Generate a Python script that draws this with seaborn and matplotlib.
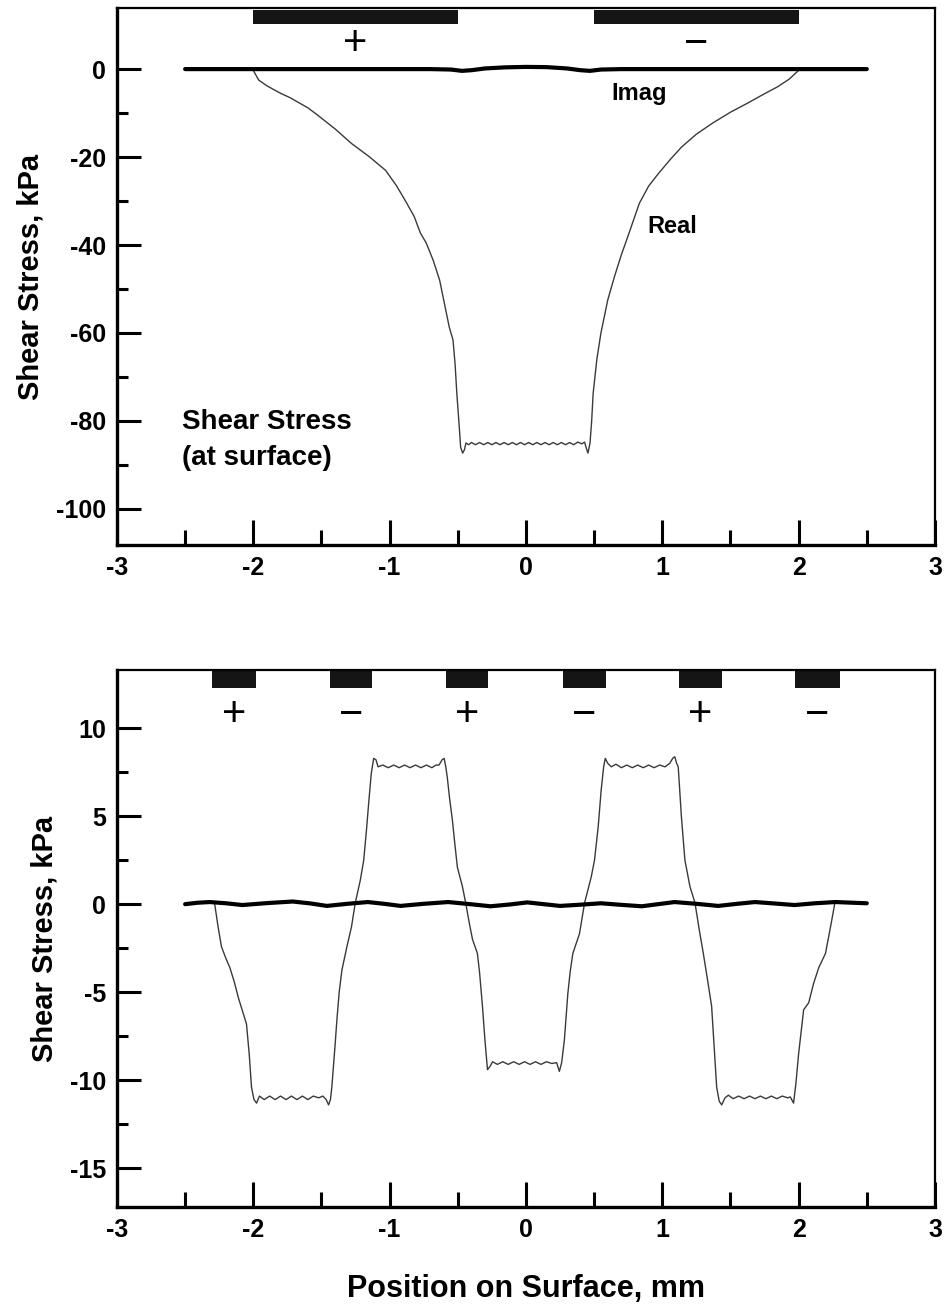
import numpy as np
import pandas as pd
import matplotlib
matplotlib.use("Agg")
import matplotlib.pyplot as plt
import seaborn as sns

# ---------------- data ----------------
# Top panel: single electrode pair
top_real_x = [-2.0, -1.96, -1.9, -1.8, -1.73, -1.6, -1.535, -1.4, -1.28, -1.15, -1.03, -0.95,
              -0.887, -0.82, -0.774, -0.732, -0.68, -0.633, -0.6, -0.563, -0.535, -0.52, -0.507,
              -0.49, -0.479, -0.464, -0.452, -0.44,
              -0.42, -0.40, -0.37, -0.34, -0.31, -0.28, -0.25, -0.22, -0.19, -0.16, -0.13, -0.10,
              -0.07, -0.04, -0.01, 0.02, 0.05, 0.08, 0.11, 0.14, 0.17, 0.20, 0.23, 0.26, 0.29,
              0.32, 0.35, 0.38, 0.41, 0.43,
              0.445, 0.455, 0.47, 0.482, 0.493, 0.52, 0.55, 0.6, 0.649, 0.7, 0.747, 0.832, 0.9,
              0.973, 1.06, 1.142, 1.25, 1.368, 1.5, 1.622, 1.75, 1.847, 1.93, 2.0]
top_real_y = [-0.3, -2.5, -3.8, -5.5, -6.5, -8.8, -10.3, -13.6, -16.9, -19.9, -23.0, -26.5,
              -29.8, -33.5, -37.3, -39.5, -43.5, -48.0, -53.0, -58.6, -61.6, -67.0, -73.7,
              -81.0, -86.0, -87.3, -86.6, -85.0,
              -85.4, -84.9, -85.4, -84.9, -85.4, -84.9, -85.4, -84.9, -85.4, -84.9, -85.4, -84.9,
              -85.4, -84.9, -85.4, -84.9, -85.4, -84.9, -85.4, -84.9, -85.4, -84.9, -85.4, -84.9, -85.4,
              -84.9, -85.4, -84.8, -85.2, -84.8,
              -86.4, -87.3, -85.0, -80.0, -73.7, -66.0, -60.0, -52.5, -47.2, -42.2, -38.1, -30.5, -26.6,
              -23.7, -20.5, -17.7, -14.8, -12.3, -9.8, -7.8, -5.6, -4.0, -2.3, -0.3]
top_imag_x = [-2.5, -2.0, -1.5, -1.0, -0.7, -0.55, -0.47, -0.40, -0.3, -0.15, 0.0, 0.15, 0.3,
              0.40, 0.47, 0.55, 0.7, 1.0, 1.5, 2.0, 2.5]
top_imag_y = [0.0, 0.0, 0.0, 0.0, 0.0, -0.1, -0.4, -0.25, 0.15, 0.4, 0.5, 0.45, 0.15,
              -0.25, -0.4, -0.1, 0.0, 0.0, 0.0, 0.0, 0.0]
top_elec_start = [-2.0, 0.5]
top_elec_end = [-0.5, 2.0]
top_sign_x = [-1.25, 1.25]
top_signs = ["+", "\u2212"]

# Bottom panel: interdigitated electrodes
bot_real_x = [-2.283, -2.26, -2.234, -2.2, -2.172, -2.14, -2.11, -2.05, -2.03, -2.013, -1.995, -1.976, -1.955,
              -1.92, -1.88, -1.84, -1.80, -1.76, -1.72, -1.68, -1.64, -1.60, -1.56, -1.52, -1.49, -1.465,
              -1.448, -1.434, -1.424, -1.40, -1.387, -1.37, -1.35, -1.313, -1.28, -1.252, -1.215, -1.19,
              -1.17, -1.154, -1.135, -1.117, -1.10, -1.085,
              -1.05, -1.01, -0.97, -0.93, -0.89, -0.85, -0.81, -0.77, -0.73, -0.69, -0.66, -0.638,
              -0.615, -0.600, -0.588, -0.577, -0.56, -0.54, -0.52, -0.503, -0.466, -0.442, -0.415, -0.392,
              -0.356, -0.34, -0.319, -0.30, -0.282, -0.262, -0.245,
              -0.21, -0.17, -0.13, -0.09, -0.05, -0.01, 0.03, 0.07, 0.11, 0.15, 0.19, 0.225,
              0.245, 0.262, 0.282, 0.307, 0.325, 0.344, 0.393, 0.43, 0.479, 0.503, 0.53, 0.552, 0.57,
              0.582, 0.60, 0.626,
              0.66, 0.70, 0.74, 0.78, 0.82, 0.86, 0.90, 0.94, 0.98, 1.02, 1.055,
              1.078, 1.092, 1.105, 1.117, 1.14, 1.166, 1.203, 1.24, 1.27, 1.301, 1.33, 1.362, 1.38,
              1.399, 1.418, 1.436, 1.46, 1.485,
              1.52, 1.56, 1.60, 1.64, 1.68, 1.72, 1.76, 1.80, 1.84, 1.88, 1.92, 1.939,
              1.963, 1.98, 2.0, 2.037, 2.074, 2.11, 2.148, 2.197, 2.234, 2.266]
bot_real_y = [0.0, -1.2, -2.4, -3.1, -3.6, -4.4, -5.3, -6.8, -8.5, -10.4, -11.1, -11.3, -10.9,
              -11.1, -10.9, -11.1, -10.9, -11.1, -10.9, -11.1, -10.9, -11.1, -10.9, -11.0, -10.9, -11.1,
              -11.4, -11.1, -10.4, -8.0, -6.6, -5.0, -3.75, -2.4, -1.3, 0.07, 1.36, 2.5,
              4.2, 5.7, 7.4, 8.28, 8.2, 7.8,
              7.9, 7.75, 7.9, 7.75, 7.9, 7.75, 7.9, 7.75, 7.9, 7.75, 7.9, 7.9,
              8.2, 8.28, 7.8, 7.2, 6.0, 4.8, 3.3, 2.1, 1.0, 0.07, -1.1, -2.0,
              -2.8, -3.9, -5.8, -7.8, -9.4, -9.2, -8.95,
              -9.1, -8.95, -9.1, -8.95, -9.1, -8.95, -9.1, -8.95, -9.1, -8.95, -9.05, -9.0,
              -9.5, -9.0, -7.7, -5.1, -3.8, -2.8, -1.67, 0.07, 1.55, 2.5, 4.4, 6.5, 7.8,
              8.28, 8.0, 7.8,
              7.95, 7.75, 7.9, 7.75, 7.9, 7.75, 7.9, 7.75, 7.9, 7.8, 8.0,
              8.3, 8.37, 8.0, 7.8, 5.0, 2.5, 1.0, 0.07, -1.4, -2.8, -4.2, -5.8, -8.0,
              -10.4, -11.2, -11.4, -11.0, -10.85,
              -11.05, -10.9, -11.05, -10.9, -11.05, -10.9, -11.05, -10.9, -11.05, -10.9, -11.0, -10.95,
              -11.3, -10.2, -8.5, -6.0, -5.6, -4.5, -3.6, -2.8, -1.3, 0.07]
bot_imag_x = [-2.5, -2.41, -2.32, -2.2, -2.08, -1.9, -1.71, -1.58, -1.46, -1.31, -1.16, -1.04,
              -0.92, -0.75, -0.57, -0.41, -0.26, -0.12, 0.01, 0.13, 0.25, 0.4, 0.55, 0.7,
              0.85, 0.97, 1.09, 1.25, 1.41, 1.55, 1.68, 1.82, 1.97, 2.12, 2.27, 2.4, 2.5]
bot_imag_y = [0.0, 0.08, 0.12, 0.05, -0.05, 0.06, 0.15, 0.04, -0.1, 0.02, 0.12, 0.02,
              -0.1, 0.02, 0.12, 0.0, -0.12, -0.02, 0.1, 0.0, -0.1, -0.03, 0.05, -0.04,
              -0.12, 0.0, 0.12, 0.02, -0.1, 0.02, 0.12, 0.04, -0.05, 0.05, 0.12, 0.08, 0.05]
bot_elec_start = [-2.30, -1.44, -0.59, 0.27, 1.12, 1.97]
bot_elec_end = [-1.98, -1.13, -0.28, 0.59, 1.44, 2.30]
bot_sign_x = [-2.14, -1.285, -0.435, 0.43, 1.28, 2.135]
bot_signs = ["+", "\u2212", "+", "\u2212", "+", "\u2212"]

x_ticks = [-3, -2, -1, 0, 1, 2, 3]
x_minor = [-2.5, -1.5, -0.5, 0.5, 1.5, 2.5]
top_yticks = [0, -20, -40, -60, -80, -100]
top_yminor = [-10, -30, -50, -70, -90]
bot_yticks = [10, 5, 0, -5, -10, -15]
bot_yminor = [7.5, 2.5, -2.5, -7.5, -12.5]

# ---------------- style ----------------
sns.set_theme(style="ticks")
plt.rcParams["font.family"] = ["Liberation Sans", "DejaVu Sans"]
plt.rcParams["font.weight"] = "bold"
plt.rcParams["axes.labelweight"] = "bold"
plt.rcParams["text.color"] = "black"
plt.rcParams["axes.labelcolor"] = "black"
plt.rcParams["xtick.color"] = "black"
plt.rcParams["ytick.color"] = "black"

fig = plt.figure(figsize=(9.44, 13.06), dpi=100)
ax1 = fig.add_axes([0.1239, 0.5827, 0.8665, 0.4112])
ax2 = fig.add_axes([0.1239, 0.0758, 0.8665, 0.4112])

df_top_real = pd.DataFrame({"x": top_real_x, "y": top_real_y})
df_top_imag = pd.DataFrame({"x": top_imag_x, "y": top_imag_y})
df_bot_real = pd.DataFrame({"x": bot_real_x, "y": bot_real_y})
df_bot_imag = pd.DataFrame({"x": bot_imag_x, "y": bot_imag_y})

real_kw = dict(color="#3a3a3a", linewidth=1.0, sort=False, estimator=None)
imag_kw = dict(color="black", linewidth=3.0, sort=False, estimator=None)

sns.lineplot(data=df_top_real, x="x", y="y", ax=ax1, **real_kw)
sns.lineplot(data=df_top_imag, x="x", y="y", ax=ax1, **imag_kw)
sns.lineplot(data=df_bot_real, x="x", y="y", ax=ax2, **real_kw)
sns.lineplot(data=df_bot_imag, x="x", y="y", ax=ax2, **imag_kw)

# electrodes
ax1.broken_barh([(s, e - s) for s, e in zip(top_elec_start, top_elec_end)], (10.2, 3.3),
                facecolors="#151515", edgecolor="none")
ax2.broken_barh([(s, e - s) for s, e in zip(bot_elec_start, bot_elec_end)], (12.3, 0.95),
                facecolors="#151515", edgecolor="none")
for xs, s in zip(top_sign_x, top_signs):
    ax1.text(xs, 5.8, s, ha="center", va="center", fontsize=30, fontweight="normal", color="black")
for xs, s in zip(bot_sign_x, bot_signs):
    ax2.text(xs, 10.75, s, ha="center", va="center", fontsize=30, fontweight="normal", color="black")

# annotations
ax1.text(0.83, -5.5, "Imag", ha="center", va="center", fontsize=17, fontweight="bold")
ax1.text(1.07, -35.9, "Real", ha="center", va="center", fontsize=17, fontweight="bold")
ax1.text(-2.52, -84.3, "Shear Stress\n(at surface)", ha="left", va="center", fontsize=20,
         fontweight="bold", linespacing=1.5)

# axes formatting
for ax, yt, ym, ylim in [(ax1, top_yticks, top_yminor, (-108.2, 13.9)),
                         (ax2, bot_yticks, bot_yminor, (-17.2, 13.3))]:
    ax.set_xlim(-3, 3)
    ax.set_ylim(*ylim)
    ax.set_xticks(x_ticks)
    ax.set_xticks(x_minor, minor=True)
    ax.set_xticklabels([str(v) for v in x_ticks])
    ax.set_yticks(yt)
    ax.set_yticks(ym, minor=True)
    ax.set_yticklabels([str(v) for v in yt])
    ax.tick_params(axis="x", which="major", direction="in", length=18, width=2.2,
                   labelsize=18, pad=8, colors="black")
    ax.tick_params(axis="x", which="minor", direction="in", length=11, width=2.2)
    ax.tick_params(axis="y", which="major", direction="in", length=17, width=2.2,
                   labelsize=18, pad=8, colors="black")
    ax.tick_params(axis="y", which="minor", direction="in", length=8, width=2.2)
    for lab in ax.get_xticklabels() + ax.get_yticklabels():
        lab.set_fontweight("bold")
    for side in ["left", "bottom"]:
        ax.spines[side].set_linewidth(2.4)
        ax.spines[side].set_color("black")
    for side in ["top", "right"]:
        ax.spines[side].set_linewidth(1.6)
        ax.spines[side].set_color("black")
    ax.set_ylabel("Shear Stress, kPa", fontsize=21, fontweight="bold", labelpad=8)
    ax.set_xlabel("")
    ax.set_facecolor("white")

ax2.set_xlabel("Position on Surface, mm", fontsize=22, fontweight="bold")
ax2.xaxis.set_label_coords(0.5, -0.125)

fig.savefig("out.png", dpi=100, facecolor="white")
